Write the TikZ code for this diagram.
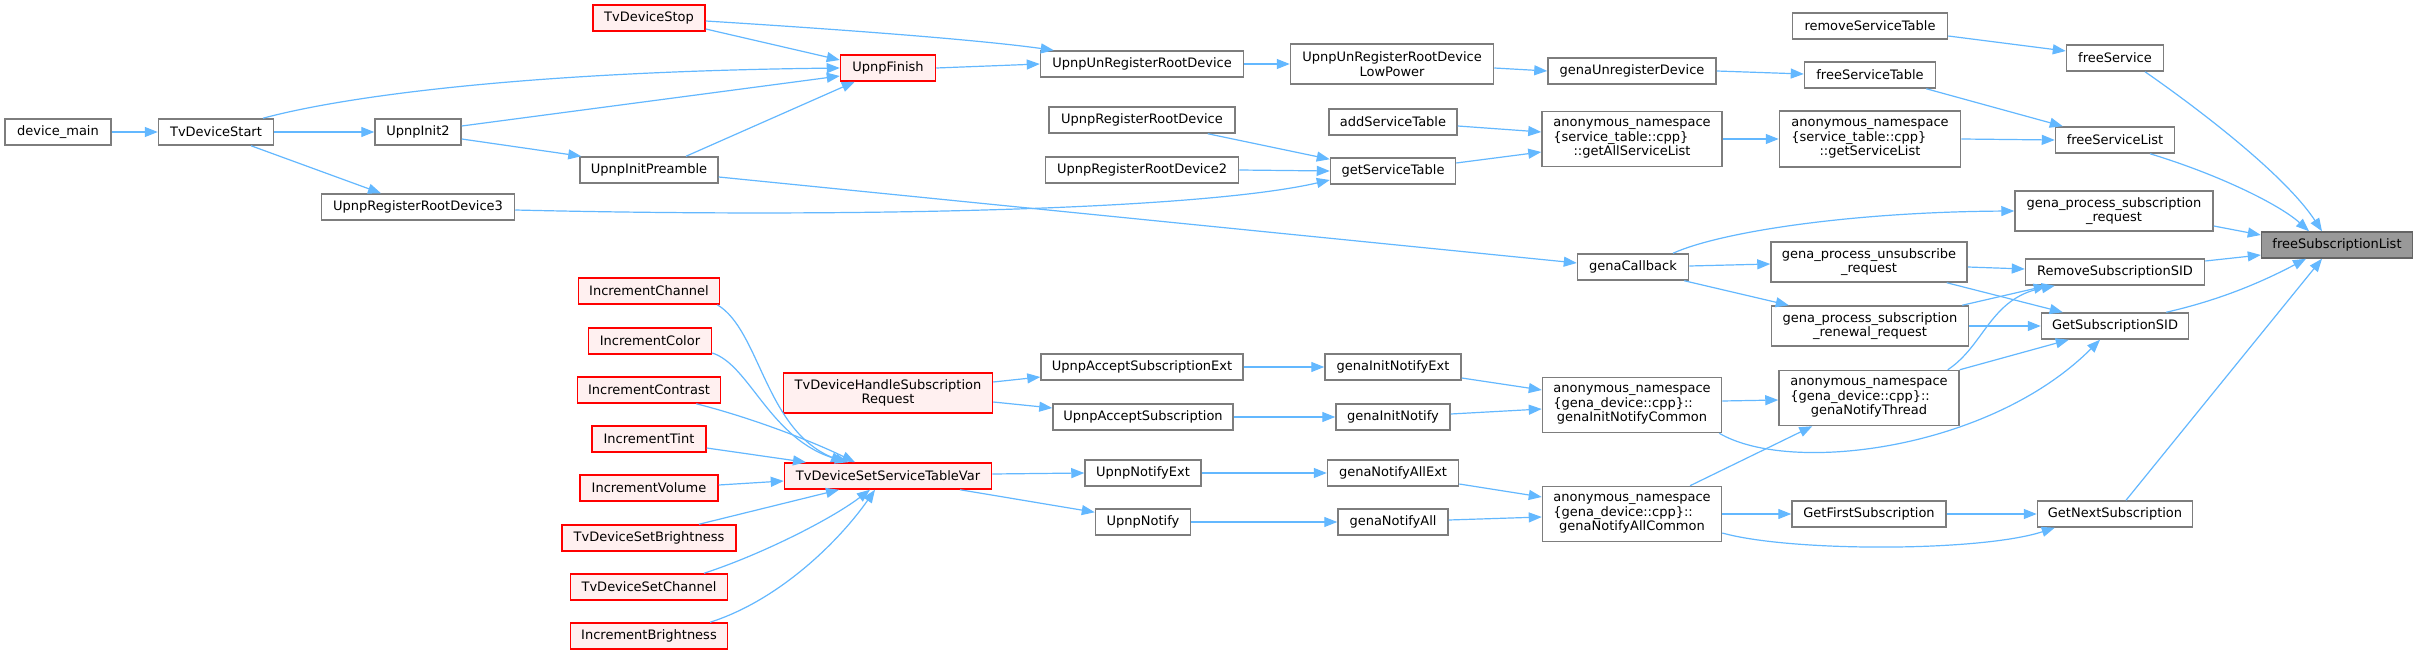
\documentclass[tikz,border=0pt]{standalone}
\usepackage{fontspec}
\setmainfont{DejaVu Sans}
\usetikzlibrary{arrows.meta,calc}
\definecolor{edgec}{RGB}{99,184,255}
\definecolor{boxb}{RGB}{125,125,125}
\definecolor{redfill}{RGB}{255,240,240}
\definecolor{rootfill}{RGB}{153,153,153}
\newcommand\leftln[1]{\setbox0\hbox{anonymous\_namespace}\makebox[\wd0][l]{#1}}
\begin{document}
\begin{tikzpicture}[x=1pt,y=-1pt,
  bx/.style={draw=boxb, fill=white, line width=1.5pt, minimum height=26, inner sep=0pt,
     font=\fontsize{13}{14.7}\selectfont, align=center, text=black},
  rbx/.style={bx, draw=red, fill=redfill},
  rootbx/.style={bx, draw={rgb,255:red,100;green,100;blue,100}, fill=rootfill},
  cg/.style={draw=edgec, line width=1.2pt, -{Triangle[length=13pt,width=10pt]}},
]
\fill[white] (0,0) rectangle (2417,655);
\useasboundingbox (0,0) rectangle (2417,655);

% nodes
\node[rbx, minimum width=112] (tvstop) at (649,18) {TvDeviceStop};
\node[bx, minimum width=106] (dm) at (58,132) {device\_main};
\node[bx, minimum width=115] (tvstart) at (216,132) {TvDeviceStart};
\node[bx, minimum width=86] (init2) at (418,132) {UpnpInit2};
\node[bx, minimum width=138] (preamble) at (649,170) {UpnpInitPreamble};
\node[bx, minimum width=193] (rrd3) at (418,207) {UpnpRegisterRootDevice3};
\node[rbx, minimum width=95] (finish) at (888,68) {UpnpFinish};
\node[bx, minimum width=203] (unreg) at (1142,64) {UpnpUnRegisterRootDevice};
\node[bx, minimum width=203, minimum height=40] (lowpower) at (1392,64) {UpnpUnRegisterRootDevice\\LowPower};
\node[bx, minimum width=168] (gunreg) at (1632,71) {genaUnregisterDevice};
\node[bx, minimum width=186] (rrd) at (1142,120) {UpnpRegisterRootDevice};
\node[bx, minimum width=128] (addst) at (1393,122) {addServiceTable};
\node[bx, minimum width=193] (rrd2) at (1142,170) {UpnpRegisterRootDevice2};
\node[bx, minimum width=125] (getst) at (1393,171) {getServiceTable};
\node[bx, minimum width=180, minimum height=55] (getall) at (1632,139) {anonymous\_namespace\\\leftln{\{service\_table::cpp\}}\\::getAllServiceList};
\node[bx, minimum width=155] (rmst) at (1870,26) {removeServiceTable};
\node[bx, minimum width=97] (freesvc) at (2115,58) {freeService};
\node[bx, minimum width=131] (freest) at (1870,75) {freeServiceTable};
\node[bx, minimum width=181, minimum height=56] (getsl) at (1870,139) {anonymous\_namespace\\\leftln{\{service\_table::cpp\}}\\::getServiceList};
\node[bx, minimum width=119] (freesl) at (2115,140) {freeServiceList};
\node[bx, minimum width=198, minimum height=40] (gpsr) at (2114,211) {gena\_process\_subscription\\\_request};
\node[rootbx, minimum width=151] (root) at (2337,245) {freeSubscriptionList};
\node[bx, minimum width=196, minimum height=40] (gpur) at (1869,262) {gena\_process\_unsubscribe\\\_request};
\node[bx, minimum width=179] (rmsid) at (2115,272) {RemoveSubscriptionSID};
\node[bx, minimum width=111] (gcb) at (1633,267) {genaCallback};
\node[bx, minimum width=197, minimum height=40] (gprr) at (1870,326) {gena\_process\_subscription\\\_renewal\_request};
\node[bx, minimum width=147] (getsid) at (2115,326) {GetSubscriptionSID};
\node[bx, minimum width=179, minimum height=55] (ginc) at (1632,405) {anonymous\_namespace\\\leftln{\{gena\_device::cpp\}::}\\genaInitNotifyCommon};
\node[bx, minimum width=180, minimum height=55] (gnt) at (1869,398) {anonymous\_namespace\\\leftln{\{gena\_device::cpp\}::}\\genaNotifyThread};
\node[bx, minimum width=179, minimum height=55] (gnac) at (1632,514) {anonymous\_namespace\\\leftln{\{gena\_device::cpp\}::}\\genaNotifyAllCommon};
\node[bx, minimum width=154] (gfs) at (1869,514) {GetFirstSubscription};
\node[bx, minimum width=155] (gns) at (2115,514) {GetNextSubscription};
\node[bx, minimum width=202] (uase) at (1142,367) {UpnpAcceptSubscriptionExt};
\node[bx, minimum width=136] (gine) at (1393,367) {genaInitNotifyExt};
\node[bx, minimum width=180] (uas) at (1143,417) {UpnpAcceptSubscription};
\node[bx, minimum width=114] (gin) at (1393,417) {genaInitNotify};
\node[bx, minimum width=116] (une) at (1143,473) {UpnpNotifyExt};
\node[bx, minimum width=131] (gnae) at (1393,473) {genaNotifyAllExt};
\node[bx, minimum width=95] (un) at (1143,522) {UpnpNotify};
\node[bx, minimum width=110] (gna) at (1393,522) {genaNotifyAll};
\node[rbx, minimum width=141] (ich) at (649,291) {IncrementChannel};
\node[rbx, minimum width=123] (icol) at (650,341) {IncrementColor};
\node[rbx, minimum width=143] (icon) at (649,390) {IncrementContrast};
\node[rbx, minimum width=114] (itint) at (649,439) {IncrementTint};
\node[rbx, minimum width=138] (ivol) at (649,488) {IncrementVolume};
\node[rbx, minimum width=174] (tsb) at (649,538) {TvDeviceSetBrightness};
\node[rbx, minimum width=157] (tsc) at (649,587) {TvDeviceSetChannel};
\node[rbx, minimum width=157] (ibr) at (649,636) {IncrementBrightness};
\node[rbx, minimum width=209, minimum height=40] (thsr) at (888,393) {TvDeviceHandleSubscription\\Request};
\node[rbx, minimum width=207] (tsstv) at (888,476) {TvDeviceSetServiceTableVar};

% edges
\draw[cg] (dm.east) -- (tvstart.west);
\draw[cg] (tvstart.east) -- (init2.west);
\draw[cg] ($(tvstart.south)+(35,0)$) -- ($(rrd3.north)+(-37,0)$);
\draw[cg] ($(tvstart.north)+(47,0)$) .. controls (330,100) and (500,72) .. (finish.west);
\draw[cg] ($(tvstop.east)+(0,11)$) -- ($(finish.west)+(0,-8)$);
\draw[cg] ($(tvstop.east)+(0,3)$) .. controls (850,30) and (980,40) .. ($(unreg.north west)+(14,0)$);
\draw[cg] ($(init2.east)+(0,-6)$) -- ($(finish.west)+(0,8)$);
\draw[cg] ($(init2.east)+(0,7)$) -- ($(preamble.north west)+(2,0)$);
\draw[cg] ($(preamble.north)+(37,0)$) -- ($(finish.south west)+(15,0)$);
\draw[cg] ($(preamble.east)+(0,7)$) -- ($(gcb.west)+(0,-4)$);
\draw[cg] ($(rrd3.east)+(0,3)$) .. controls (850,218) and (1200,210) .. ($(getst.west)+(0,9)$);
\draw[cg] (finish.east) -- (unreg.west);
\draw[cg] (unreg.east) -- (lowpower.west);
\draw[cg] ($(lowpower.east)+(0,4)$) -- (gunreg.west);
\draw[cg] (gunreg.east) -- ($(freest.west)+(0,-1)$);
\draw[cg] ($(rrd.south east)+(-28,0)$) -- ($(getst.north west)+(0,2)$);
\draw[cg] (rrd2.east) -- (getst.west);
\draw[cg] ($(addst.east)+(0,4)$) -- ($(getall.west)+(0,-7)$);
\draw[cg] ($(getst.east)+(0,-8)$) -- ($(getall.west)+(0,13)$);
\draw[cg] (getall.east) -- (getsl.west);
\draw[cg] (getsl.east) -- (freesl.west);
\draw[cg] ($(freest.south east)+(-10,0)$) -- ($(freesl.north west)+(8,0)$);
\draw[cg] ($(rmst.east)+(0,10)$) -- ($(freesvc.west)+(0,-7)$);
\draw[cg] ($(freesvc.south)+(30,0)$) .. controls (2200,110) and (2285,175) .. ($(root.north)+(-15,0)$);
\draw[cg] ($(freesl.south)+(35,0)$) .. controls (2220,175) and (2280,205) .. ($(root.north)+(-28,0)$);
\draw[cg] ($(gpsr.east)+(0,15)$) -- ($(root.west)+(0,-10)$);
\draw[cg] ($(rmsid.east)+(0,-11)$) -- ($(root.west)+(0,10)$);
\draw[cg] ($(getsid.north east)+(-23,0)$) .. controls (2220,300) and (2262,282) .. ($(root.south)+(-31,0)$);
\draw[cg] ($(gns.north)+(11,0)$) -- ($(root.south)+(-15,0)$);
\draw[cg] ($(gcb.north)+(40,0)$) .. controls (1720,232) and (1850,212) .. (gpsr.west);
\draw[cg] ($(gcb.east)+(0,-1)$) -- ($(gpur.west)+(0,2)$);
\draw[cg] ($(gcb.south east)+(-5,0)$) -- ($(gprr.north west)+(18,0)$);
\draw[cg] ($(gpur.east)+(0,5)$) -- ($(rmsid.west)+(0,-3)$);
\draw[cg] ($(gpur.south east)+(-21,0)$) -- ($(getsid.north west)+(22,0)$);
\draw[cg] ($(gprr.north east)+(-7,0)$) -- ($(rmsid.south west)+(22,0)$);
\draw[cg] (gprr.east) -- (getsid.west);
\draw[cg] (gnt.north east) -- ($(getsid.south west)+(28,0)$);
\draw[cg] ($(gnt.north east)+(-12,0)$) .. controls (1985,345) and (1990,298) .. ($(rmsid.south west)+(30,0)$);
\draw[cg] ($(ginc.east)+(0,-4)$) -- ($(gnt.west)+(0,2)$);
\draw[cg] ($(ginc.south east)+(-3,0)$) .. controls (1790,475) and (1990,450) .. ($(getsid.south)+(-15,0)$);
\draw[cg] ($(gnac.north)+(58,0)$) -- ($(gnt.south west)+(34,0)$);
\draw[cg] (gnac.east) -- (gfs.west);
\draw[cg] ($(gnac.east)+(0,19)$) .. controls (1790,552) and (1980,552) .. ($(gns.south west)+(18,0)$);
\draw[cg] (gfs.east) -- (gns.west);
\draw[cg] ($(gine.east)+(0,11)$) -- ($(ginc.west)+(0,-15)$);
\draw[cg] ($(gin.east)+(0,-3)$) -- ($(ginc.west)+(0,4)$);
\draw[cg] ($(gnae.east)+(0,11)$) -- ($(gnac.west)+(0,-17)$);
\draw[cg] ($(gna.east)+(0,-2)$) -- ($(gnac.west)+(0,3)$);
\draw[cg] (uase.east) -- (gine.west);
\draw[cg] (uas.east) -- (gin.west);
\draw[cg] (une.east) -- (gnae.west);
\draw[cg] (un.east) -- (gna.west);
\draw[cg] ($(thsr.east)+(0,-11)$) -- ($(uase.west)+(0,10)$);
\draw[cg] ($(thsr.east)+(0,9)$) -- ($(uas.west)+(0,-9)$);
\draw[cg] ($(tsstv.east)+(0,-2)$) -- (une.west);
\draw[cg] ($(tsstv.south)+(72,0)$) -- ($(un.north west)+(0,4)$);
\draw[cg] ($(ich.south east)+(-3,0)$) .. controls (760,330) and (765,430) .. ($(tsstv.north)+(-44,0)$);
\draw[cg] ($(icol.east)+(0,12)$) .. controls (750,365) and (770,440) .. ($(tsstv.north)+(-40,0)$);
\draw[cg] ($(icon.south east)+(-25,0)$) .. controls (760,420) and (820,445) .. ($(tsstv.north)+(-33,0)$);
\draw[cg] ($(itint.east)+(0,9)$) -- ($(tsstv.north)+(-82,0)$);
\draw[cg] ($(ivol.east)+(0,-3)$) -- ($(tsstv.west)+(0,5)$);
\draw[cg] ($(tsb.north)+(50,0)$) -- ($(tsstv.south)+(-49,0)$);
\draw[cg] ($(tsc.north)+(55,0)$) .. controls (760,555) and (830,520) .. ($(tsstv.south)+(-18,0)$);
\draw[cg] ($(ibr.north)+(61,0)$) .. controls (780,600) and (840,540) .. ($(tsstv.south)+(-13,0)$);
\end{tikzpicture}
\end{document}
